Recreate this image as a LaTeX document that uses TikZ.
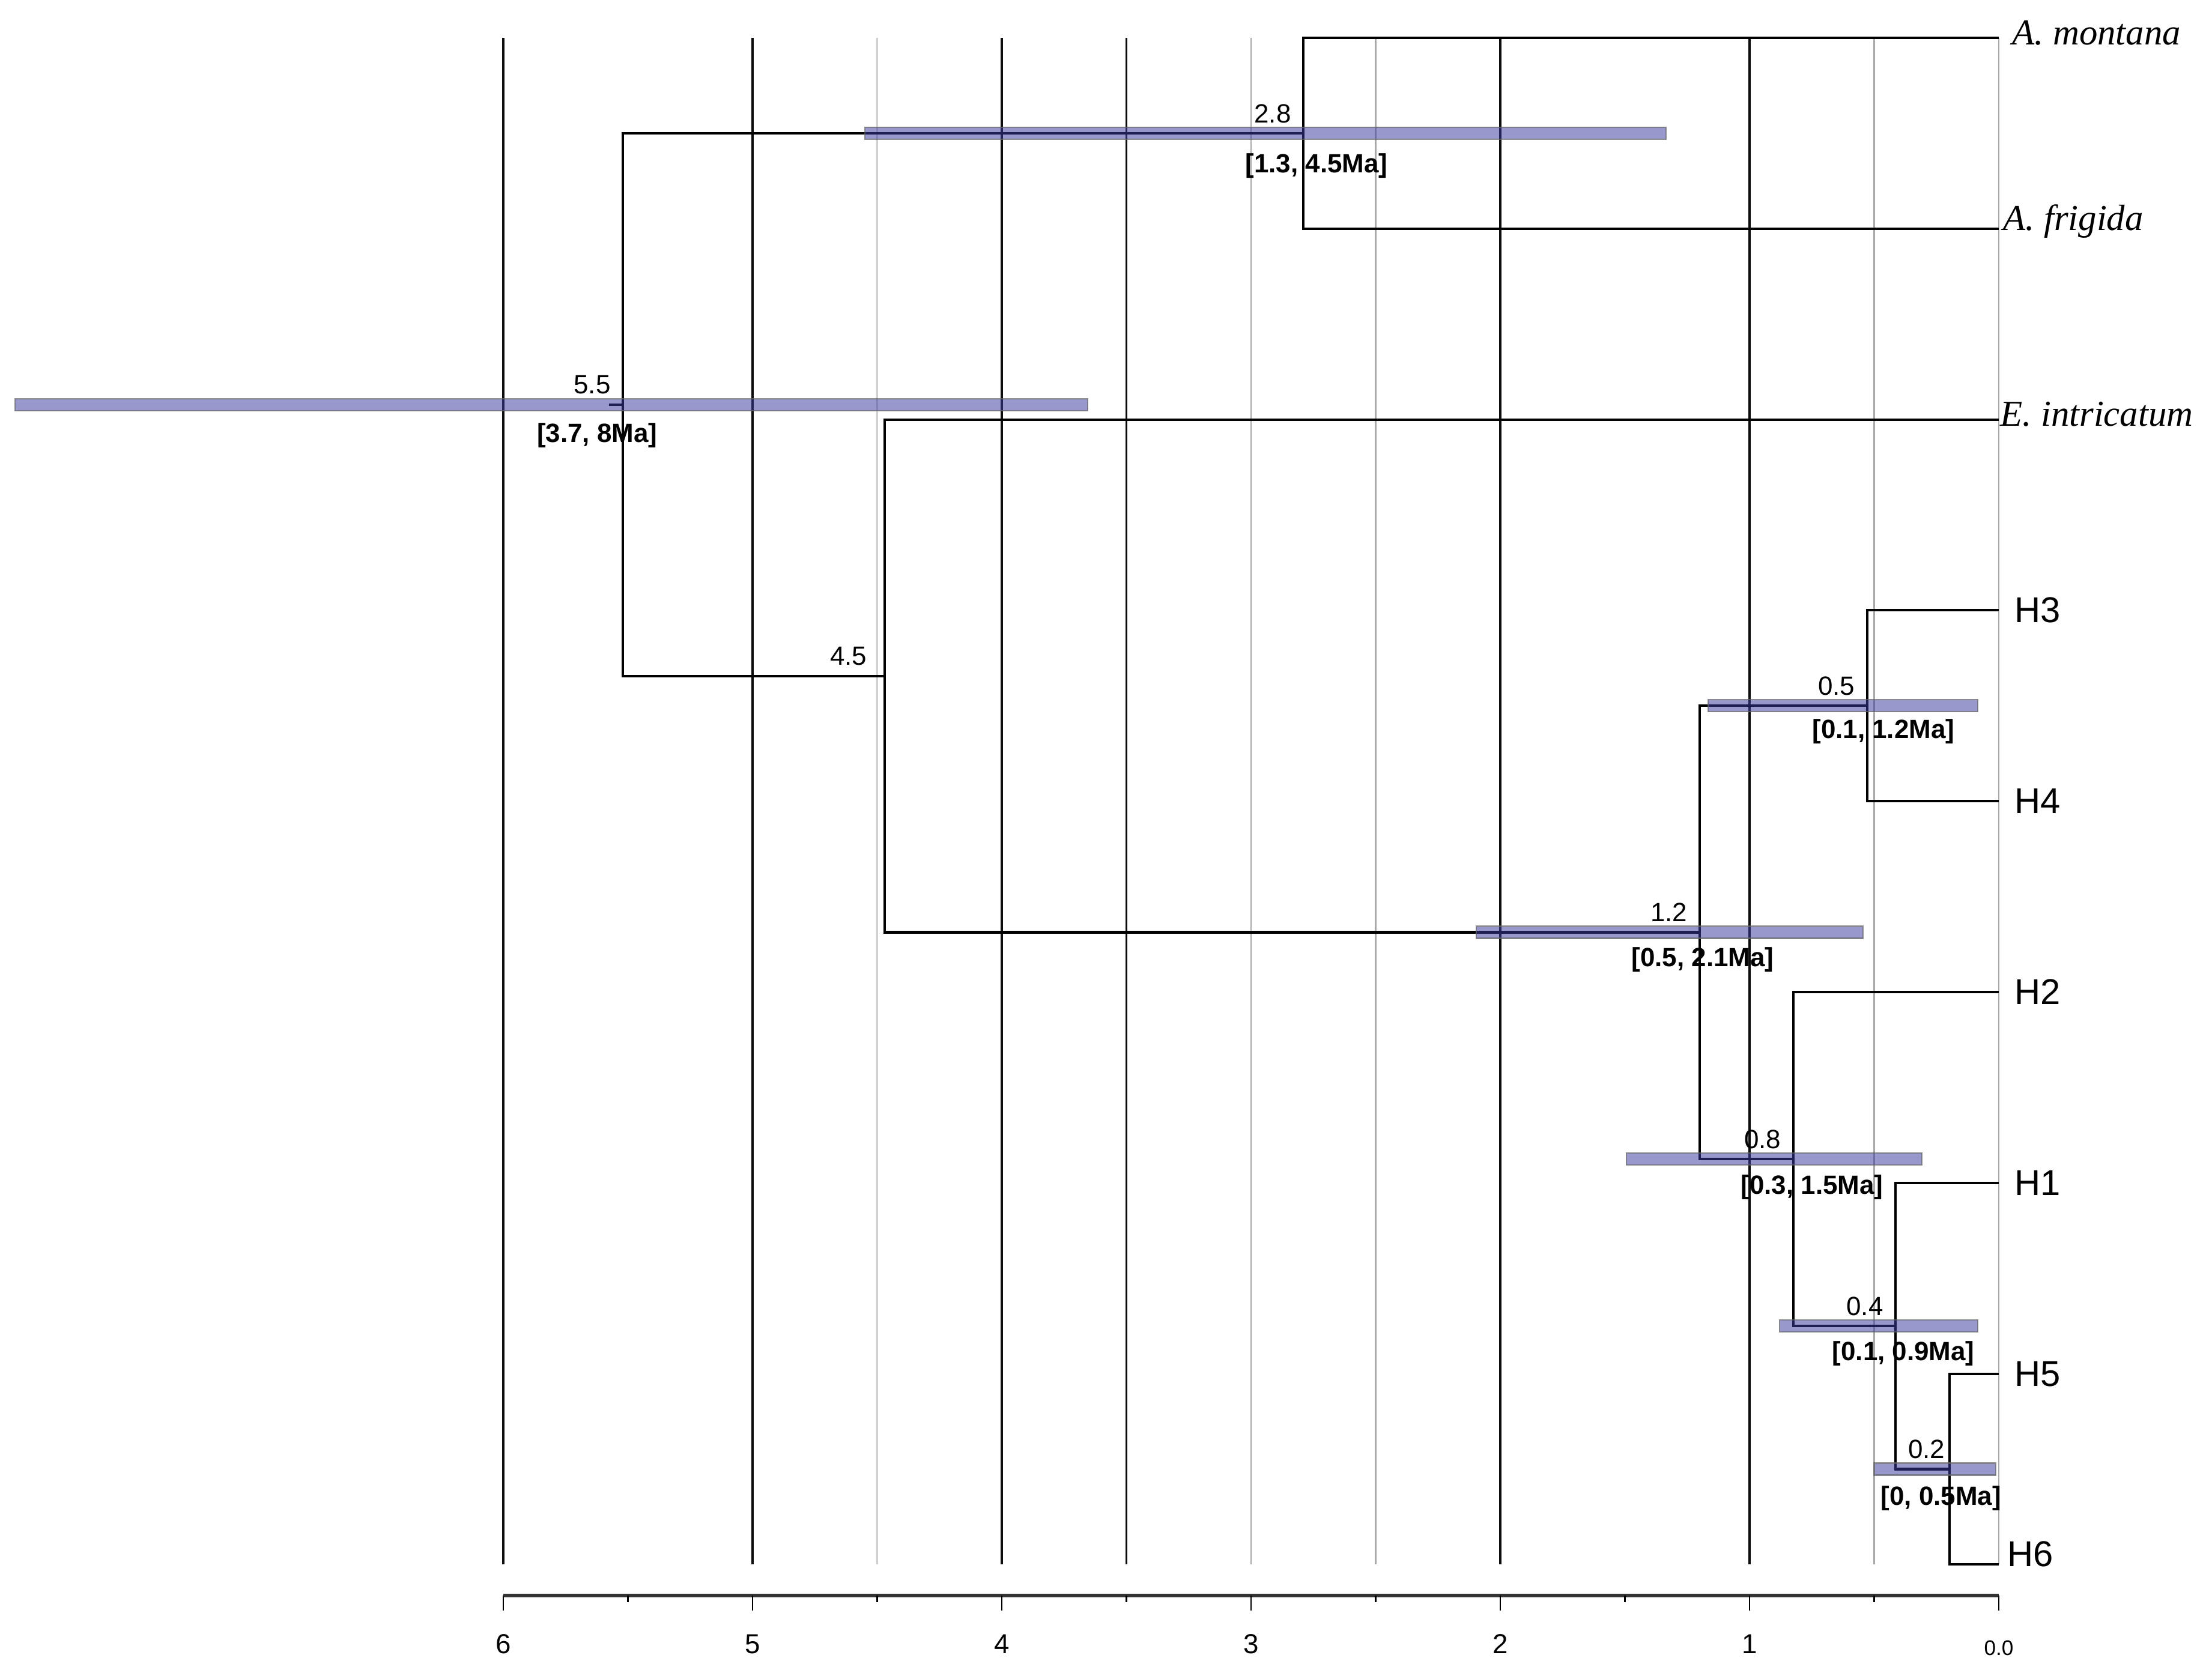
\documentclass[tikz,border=0pt]{standalone}
\usepackage{fontspec}
\setmainfont{Liberation Sans}
\newfontfamily\taxonfont{Liberation Serif}
\definecolor{hpdfill}{RGB}{58,58,158}
\definecolor{gridgray}{RGB}{168,168,168}

\begin{document}
\begin{tikzpicture}
	 [x=-4.15cm,y=-1cm,
	  branch/.style={line width=1.2pt,black},
	  gridd/.style={line width=0.9pt,black!95},
	  gridl/.style={line width=0.8pt,gridgray},
	  hpd/.style={fill=hpdfill,fill opacity=0.52,draw=black!60,draw opacity=0.7,line width=0.6pt},
	  agelab/.style={anchor=east,inner sep=0pt,xshift=-0.2cm,yshift=0.33cm,font=\fontsize{12.5}{15}\selectfont},
	  hpdlab/.style={anchor=center,inner sep=0pt,font=\bfseries\fontsize{12.5}{15}\selectfont},
	  taxon/.style={anchor=base west,inner sep=0pt,font=\taxonfont\itshape\fontsize{17.3}{20}\selectfont},
	  hap/.style={anchor=west,inner sep=0pt,xshift=0.26cm,font=\fontsize{17}{20}\selectfont},
	  ticklab/.style={anchor=center,inner sep=0pt,font=\fontsize{13}{15}\selectfont}]
	\useasboundingbox (8.0193,0) rectangle (-0.8554,27.86);

	% time grid
	\foreach \g in {6,5,4,3.5,2,1}
    \draw[gridd] (\g,0.63) -- (\g,26.05);
	\foreach \g in {3,2.5,0.5,0}
    \draw[gridl] (\g,0.63) -- (\g,26.05);
	\draw[gridl,gridgray!55] (4.5,0.63) -- (4.5,26.05);

	% tips
	\coordinate (tm) at (0,0.63);
	  \coordinate (tf) at (0,3.81);
	  \coordinate (te) at (0,6.99);
	  \coordinate (t3) at (0,10.16);
	  \coordinate (t4) at (0,13.34);
	  \coordinate (t2) at (0,16.52);
	  \coordinate (t1) at (0,19.70);
	  \coordinate (t5) at (0,22.88);
	  \coordinate (t6) at (0,26.05);

	% internal nodes (age, y)
	\coordinate (n28) at (2.79,2.22);
	  \coordinate (n55) at (5.52,6.74);
	  \coordinate (n45) at (4.47,11.26);
	  \coordinate (n12) at (1.2,15.525);
	  \coordinate (n05) at (0.528,11.75);
	  \coordinate (n08) at (0.824,19.30);
	  \coordinate (n04) at (0.414,22.08);
	  \coordinate (n02) at (0.198,24.465);
	  \coordinate (root) at (5.575,6.74);

	\draw[branch] (tm) -| (n28) |- (tf);
	\draw[branch] (n28) -| (n55) |- (n45);
	\draw[branch] (te) -| (n45) |- (n12);
	\draw[branch] (n05) -| (n12) |- (n08);
	\draw[branch] (t3) -| (n05) |- (t4);
	\draw[branch] (t2) -| (n08) |- (n04);
	\draw[branch] (t1) -| (n04) |- (n02);
	\draw[branch] (t5) -| (n02) |- (t6);
	\draw[branch] (n55) -- (root);

	% 95% HPD bars
	\foreach \yy/\lo/\hi in {6.74/7.96/3.655,2.22/4.55/1.335,15.525/2.096/0.545,11.75/1.166/0.084,19.30/1.494/0.308,22.08/0.88/0.084,24.465/0.50/0.013}
    \draw[hpd] ({\lo},{\yy-0.1}) rectangle ({\hi},{\yy+0.1});

	% node ages
	\node[agelab] (a28) at (n28) {2.8};
	  \node[agelab] (a55) at (n55) {5.5};
	  \node[agelab,xshift=-0.09cm] (a45) at (n45) {4.5};
	  \node[agelab] (a12) at (n12) {1.2};
	  \node[agelab] (a05) at (n05) {0.5};
	  \node[agelab] (a08) at (n08) {0.8};
	  \node[agelab] (a04) at (n04) {0.4};
	  \node[agelab,xshift=0.13cm] (a02) at (n02) {0.2};

	\node[hpdlab,xshift=0.22cm,yshift=-0.54cm] (i28) at (n28) {[1.3, 4.5Ma]};
	  \node[hpdlab,xshift=-0.43cm,yshift=-0.51cm] (i55) at (n55) {[3.7, 8Ma]};
	  \node[hpdlab,xshift=0.05cm,yshift=-0.46cm] (i12) at (n12) {[0.5, 2.1Ma]};
	  \node[hpdlab,xshift=0.27cm,yshift=-0.43cm] (i05) at (n05) {[0.1, 1.2Ma]};
	  \node[hpdlab,xshift=0.31cm,yshift=-0.47cm] (i08) at (n08) {[0.3, 1.5Ma]};
	  \node[hpdlab,xshift=0.13cm,yshift=-0.46cm] (i04) at (n04) {[0.1, 0.9Ma]};
	  \node[hpdlab,xshift=-0.14cm,yshift=-0.49cm] (i02) at (n02) {[0, 0.5Ma]};

	% taxa
	\node[taxon,xshift=0.22cm,yshift=-0.12cm] (Lm) at (tm) {A. montana};
	  \node[taxon,xshift=0.07cm,yshift=-0.03cm] (Lf) at (tf) {A. frigida};
	  \node[taxon,xshift=0.02cm,yshift=-0.10cm] (Le) at (te) {E. intricatum};
	  \node[hap] (L3) at (t3) {H3};
	  \node[hap] (L4) at (t4) {H4};
	  \node[hap] (L2) at (t2) {H2};
	  \node[hap] (L1) at (t1) {H1};
	  \node[hap] (L5) at (t5) {H5};
	  \node[hap,xshift=-0.12cm,yshift=0.17cm] (L6) at (t6) {H6};

	% time axis
	\coordinate (ax0) at (0,26.57);
	  \coordinate (ax6) at (6,26.57);
	\draw[line width=1.6pt,black!80] (ax6) -- (ax0);
	\foreach \t in {0,...,6}
    \draw[line width=0.8pt] (\t,26.57) -- (\t,26.82);
	\foreach \t in {0.5,1.5,...,5.5}
    \draw[line width=0.8pt] (\t,26.57) -- (\t,26.68);
	\foreach \t in {1,...,6}
    \node[ticklab] (lab\t) at (\t,27.38) {\t};
	\node[ticklab,font=\fontsize{10}{12}\selectfont] (lab0) at (0,27.44) {0.0};

\end{tikzpicture}
\end{document}
